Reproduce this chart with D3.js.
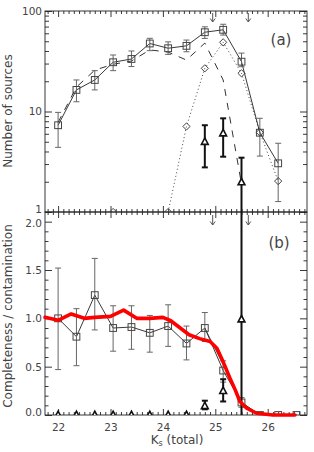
<!DOCTYPE html>
<html><head><meta charset="utf-8">
<script src="https://cdn.jsdelivr.net/npm/d3@7"></script>
<style>body{margin:0;background:#fff}svg{display:block}text{font-family:"DejaVu Sans",sans-serif;fill:#444}</style>
</head><body><svg id="c" width="314" height="452"></svg>
<script>
// ---------- data ----------
const bins = [22.0,22.35,22.7,23.05,23.4,23.75,24.1,24.45,24.8,25.15,25.5,25.85,26.2,26.55];
// panel (a): number of sources
const totalN  = [7.3,16.4,20.6,30.9,33.3,47.5,42.6,45.0,61.5,65.0,31.3,6.15,3.05,0];
const totalLo = [4.4,12.5,16.4,25.5,28.0,40.3,37.0,39.3,53.4,57.6,27.9,3.6,1.27,null];
const totalHi = [9.8,20.6,25.5,36.5,40.0,53.5,49.3,51.4,69.6,73.8,38.1,8.56,4.83,null];
const recovN  = [7.8,17.5,25.8,29.5,31.8,41.0,39.0,32.5,48.0,20.6,1.9,null,null,null];
const simN    = [0,0,0,1,0,0,1,7.1,26.9,48.8,24.0,6.2,2.03,0];
const contN   = [null,null,null,null,null,null,null,null,5.0,6.07,1.98,null,null,null];
const contNLo = [null,null,null,null,null,null,null,null,2.78,3.55,0,null,null,null];
const contNHi = [null,null,null,null,null,null,null,null,7.3,8.55,3.47,null,null,null];
// panel (b): completeness / contamination
const comp    = [1.0,0.81,1.24,0.90,0.91,0.85,0.92,0.74,0.90,0.46,0.13,0,0,0];
const compLo  = [0.47,0.51,0.88,0.66,0.68,0.65,0.71,0.57,0.76,0.34,0.08,null,null,null];
const compHi  = [1.52,1.10,1.62,1.13,1.13,1.03,1.14,0.92,1.06,0.56,0.18,null,null,null];
const comp2   = [null,null,null,null,null,null,null,null,0.90,0.52,0.13,0,0,0];
const contam   = [0,0,0,0,0,0,0,0,0.093,0.25,0.99,null,null,null];
const contamLo = [null,null,null,null,null,null,null,null,0.059,0.14,0,null,null,null];
const contamHi = [null,null,null,null,null,null,null,null,0.148,0.37,3.0,null,null,null];
const modelX = [21.75,22.0,22.25,22.5,22.7,23.0,23.25,23.5,23.75,24.0,24.15,24.5,24.7,24.9,25.03,25.15,25.28,25.38,25.47,25.6,25.79,26.1,26.52];
const modelY = [1.01,0.98,1.045,1.0,1.01,1.02,1.085,1.0,1.0,1.01,0.975,0.83,0.79,0.76,0.69,0.55,0.38,0.26,0.14,0.07,0.018,0.0,0.0];
const limits = [24.95,25.63];
const xTicks = [22,23,24,25,26];
const yTopTicks = [1,10,100];
const yBotTicks = [0,0.5,1.0,1.5,2.0];

// ---------- layout ----------
const L=45,R=307,T1=11,B1=212,T2=212,B2=415;
const svg = d3.select("#c");
const x  = d3.scaleLinear().domain([21.75,26.75]).range([L,R]);
const yT = d3.scaleLog().domain([1,100]).range([B1,T1]);
const yB = d3.scaleLinear().domain([0,2.1]).range([B2,T2]);

const defs = svg.append("defs");
defs.append("clipPath").attr("id","cpT").append("rect").attr("x",L).attr("y",T1).attr("width",R-L).attr("height",B1-T1);
defs.append("clipPath").attr("id","cpB").append("rect").attr("x",L).attr("y",T2).attr("width",R-L).attr("height",B2-T2);

const xMinor = d3.range(21.8,26.75,0.1).map(v=>+v.toFixed(2)).filter(v=>Math.abs(v-Math.round(v))>1e-6);
const yTMinor = [2,3,4,5,6,7,8,9,20,30,40,50,60,70,80,90];
const yBMinor = d3.range(0.1,2.1,0.1).map(v=>+v.toFixed(2)).filter(v=>Math.abs(v*2-Math.round(v*2))>1e-6);

function styleAxis(g){ g.select(".domain").remove(); g.selectAll("line").attr("stroke","#222").attr("stroke-width",0.9); g.selectAll("text").attr("font-size",10.5).attr("fill","#444").attr("font-family","DejaVu Sans"); }
function addAxis(axis, tx, ty){ const g=svg.append("g").attr("transform",`translate(${tx},${ty})`).call(axis); styleAxis(g); return g; }

// x axes (ticks only)
[[T1,"b"],[B1,"t"],[T2,"b"],[B2,"t"]].forEach(([yy,dir])=>{
  const mk = dir==="b"? d3.axisBottom : d3.axisTop;
  addAxis(mk(x).tickValues(xTicks).tickSizeOuter(0).tickSizeInner(6).tickFormat(""),0,yy);
  addAxis(mk(x).tickValues(xMinor).tickSizeOuter(0).tickSizeInner(3).tickFormat(""),0,yy);
});
// x labels
addAxis(d3.axisBottom(x).tickValues(xTicks).tickSizeOuter(0).tickSizeInner(0).tickPadding(9).tickFormat(d3.format("d")),0,B2);

// y axes panel a
const gyA = addAxis(d3.axisLeft(yT).tickValues(yTopTicks).tickSizeOuter(0).tickSizeInner(-7).tickPadding(3).tickFormat(d3.format("d")),L,0);
gyA.selectAll(".tick text").filter(d=>d===1).attr("y",-3);
addAxis(d3.axisLeft(yT).tickValues(yTMinor).tickSizeOuter(0).tickSizeInner(-4).tickFormat(""),L,0);
addAxis(d3.axisRight(yT).tickValues(yTopTicks).tickSizeOuter(0).tickSizeInner(-7).tickFormat(""),R,0);
addAxis(d3.axisRight(yT).tickValues(yTMinor).tickSizeOuter(0).tickSizeInner(-4).tickFormat(""),R,0);
// y axes panel b
const gyB = addAxis(d3.axisLeft(yB).tickValues(yBotTicks).tickSizeOuter(0).tickSizeInner(-7).tickPadding(3).tickFormat(d3.format(".1f")),L,0);
gyB.selectAll(".tick text").filter(d=>d===0).attr("y",-3);
gyB.selectAll(".tick text").filter(d=>d===2).attr("y",1);
addAxis(d3.axisLeft(yB).tickValues(yBMinor).tickSizeOuter(0).tickSizeInner(-3.5).tickFormat(""),L,0);
addAxis(d3.axisRight(yB).tickValues(yBotTicks).tickSizeOuter(0).tickSizeInner(-7).tickFormat(""),R,0);
addAxis(d3.axisRight(yB).tickValues(yBMinor).tickSizeOuter(0).tickSizeInner(-3.5).tickFormat(""),R,0);

// frames
svg.append("rect").attr("x",L).attr("y",T1).attr("width",R-L).attr("height",B1-T1).attr("fill","none").attr("stroke","#222").attr("stroke-width",0.9);
svg.append("rect").attr("x",L).attr("y",T2).attr("width",R-L).attr("height",B2-T2).attr("fill","none").attr("stroke","#222").attr("stroke-width",0.9);

// titles
svg.append("text").attr("transform","translate(12,111) rotate(-90)").attr("text-anchor","middle").attr("font-size",12).text("Number of sources");
svg.append("text").attr("transform","translate(12,316) rotate(-90)").attr("text-anchor","middle").attr("font-size",12).text("Completeness / contamination");
const xt = svg.append("text").attr("x",177).attr("y",444).attr("text-anchor","middle").attr("font-size",12);
xt.append("tspan").text("K");
xt.append("tspan").attr("font-size",8).attr("dy",2).text("s");
xt.append("tspan").attr("dy",-2).text(" (total)");
svg.append("text").attr("x",281).attr("y",45).attr("text-anchor","middle").attr("font-size",15).text("(a)");
svg.append("text").attr("x",279).attr("y",248).attr("text-anchor","middle").attr("font-size",15).text("(b)");

// ---------- panel a ----------
const gA = svg.append("g").attr("clip-path","url(#cpT)");
const pos = v => v!=null && v>0;
const lineA = arr => d3.line().defined((d,i)=>pos(arr[i])).x((d,i)=>x(bins[i])).y((d,i)=>pos(arr[i])?yT(arr[i]):0)(bins);
gA.append("path").attr("d",lineA(simN)).attr("fill","none").attr("stroke","#444").attr("stroke-width",1).attr("stroke-dasharray","1,2.6");
gA.append("path").attr("d",lineA(recovN)).attr("fill","none").attr("stroke","#333").attr("stroke-width",1).attr("stroke-dasharray","7,7");
gA.append("path").attr("d",lineA(totalN)).attr("fill","none").attr("stroke","#222").attr("stroke-width",0.9);

function errBars(g, ys, lo, hi, ysc, bottom, color, w, cap){
  bins.forEach((b,i)=>{
    if(lo[i]==null || hi[i]==null) return;
    const xx=x(b), y1 = lo[i]>0||ysc===yB ? ysc(lo[i]) : bottom, y2 = ysc(hi[i]);
    g.append("line").attr("x1",xx).attr("x2",xx).attr("y1",y1).attr("y2",y2).attr("stroke",color).attr("stroke-width",w);
    g.append("line").attr("x1",xx-cap).attr("x2",xx+cap).attr("y1",y2).attr("y2",y2).attr("stroke",color).attr("stroke-width",w);
    if(lo[i]>0) g.append("line").attr("x1",xx-cap).attr("x2",xx+cap).attr("y1",y1).attr("y2",y1).attr("stroke",color).attr("stroke-width",w);
  });
}
errBars(gA, totalN, totalLo, totalHi, yT, B1, "#666", 1, 3);
// squares
bins.forEach((b,i)=>{ if(pos(totalN[i])) gA.append("rect").attr("x",x(b)-3.4).attr("y",yT(totalN[i])-3.4).attr("width",6.8).attr("height",6.8).attr("fill","none").attr("stroke","#444").attr("stroke-width",1); });
// diamonds
bins.forEach((b,i)=>{ if(pos(simN[i])){ const cx=x(b), cy=yT(simN[i]);
  gA.append("path").attr("d",`M${cx},${cy-3.6}L${cx+3.6},${cy}L${cx},${cy+3.6}L${cx-3.6},${cy}Z`).attr("fill","none").attr("stroke","#444").attr("stroke-width",1);} });
// triangles with thick error bars
errBars(gA, contN, contNLo, contNHi, yT, B1, "#111", 2, 3);
function tri(g,cx,cy){ g.append("path").attr("d",`M${cx},${cy-3.8}L${cx+3.4},${cy+2.6}L${cx-3.4},${cy+2.6}Z`).attr("fill","#fff").attr("stroke","#111").attr("stroke-width",1.6).attr("stroke-linejoin","miter"); }
bins.forEach((b,i)=>{ if(pos(contN[i])) tri(gA,x(b),yT(contN[i])); });

// arrows
function arrow(xx,y1,y2){
  svg.append("path").attr("d",`M${xx},${y1}L${xx},${y2}M${xx-2.5},${y2-3.5}L${xx},${y2}L${xx+2.5},${y2-3.5}`).attr("fill","none").attr("stroke","#555").attr("stroke-width",1);
}
limits.forEach(v=>{ arrow(x(v),13,22); arrow(x(v),215,225); });

// ---------- panel b ----------
const gB = svg.append("g").attr("clip-path","url(#cpB)");
const lineB = arr => d3.line().defined((d,i)=>arr[i]!=null).x((d,i)=>x(bins[i])).y((d,i)=>arr[i]!=null?yB(arr[i]):0)(bins);
gB.append("path").attr("d",lineB(comp2)).attr("fill","none").attr("stroke","#333").attr("stroke-width",0.8);
gB.append("path").attr("d",lineB(comp)).attr("fill","none").attr("stroke","#222").attr("stroke-width",0.9);
errBars(gB, comp, compLo, compHi, yB, B2, "#666", 1, 3);
bins.forEach((b,i)=>{ if(comp[i]!=null) gB.append("rect").attr("x",x(b)-3.4).attr("y",yB(comp[i])-3.4).attr("width",6.8).attr("height",6.8).attr("fill","none").attr("stroke","#444").attr("stroke-width",1); });
// model (red)
svg.append("path").attr("d",d3.line().x((d,i)=>x(modelX[i])).y((d,i)=>yB(modelY[i]))(modelX))
  .attr("fill","none").attr("stroke","#ff0000").attr("stroke-width",3.6).attr("stroke-linejoin","round").attr("stroke-linecap","round");
errBars(gB, contam, contamLo, contamHi, yB, B2, "#111", 2, 3);
bins.forEach((b,i)=>{ if(contam[i]!=null) tri(gB,x(b),yB(contam[i])); });
</script></body></html>
